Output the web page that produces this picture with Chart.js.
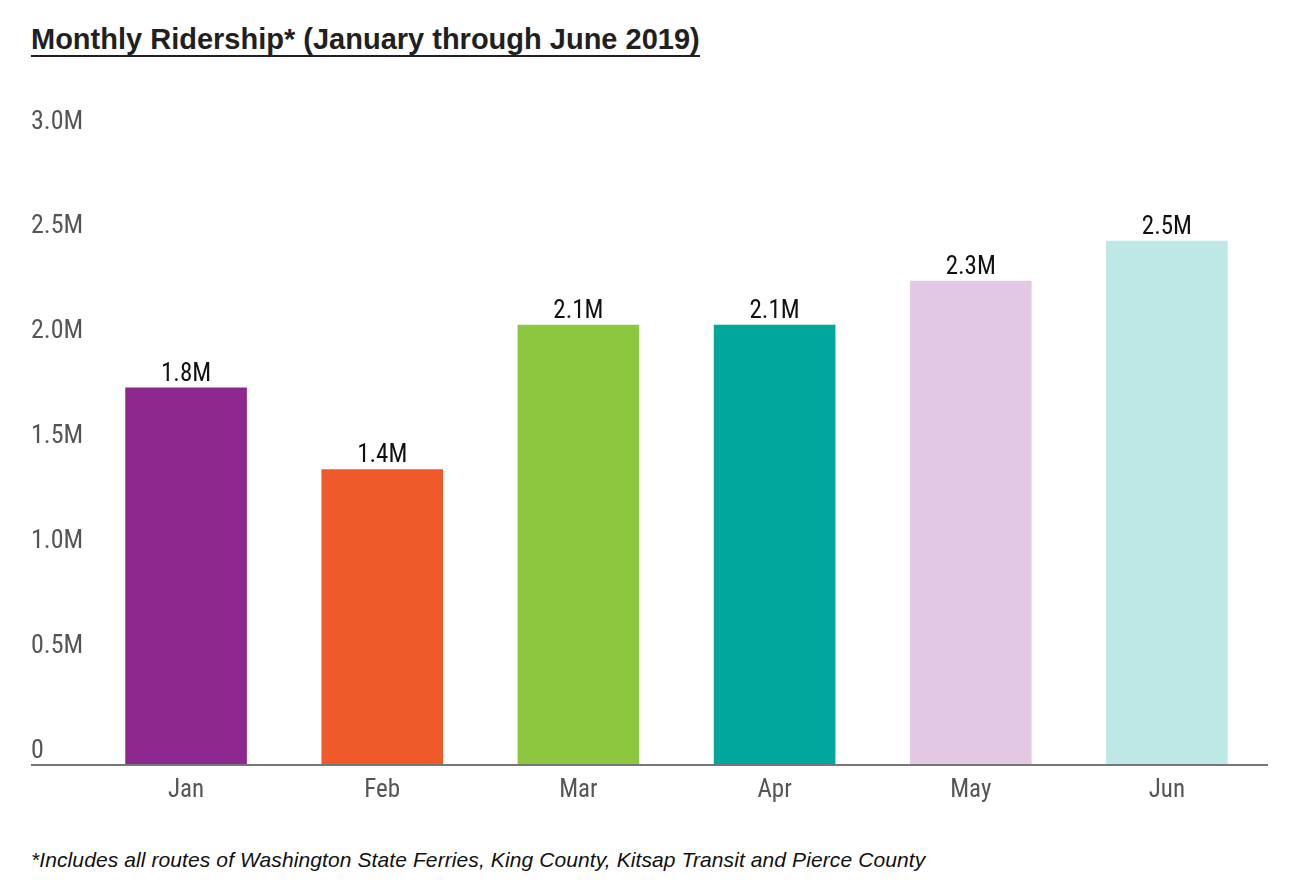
<!DOCTYPE html>
<html>
<head>
<meta charset="utf-8">
<script src="https://cdn.jsdelivr.net/npm/chart.js@4.4.1/dist/chart.umd.min.js"></script>
<style>
  body { margin: 0; background: #fff; }
  #page { position: relative; width: 1290px; height: 888px; overflow: hidden; }
  #title {
    position: absolute; left: 31px; top: 24px;
    font: bold 29px "Liberation Sans", Arial, sans-serif;
    color: #231f20; line-height: 30px;
    border-bottom: 2px solid #231f20; padding-bottom: 1px;
  }
  #note {
    position: absolute; left: 31px; top: 848px;
    font: italic 21px "Liberation Sans", Arial, sans-serif; color: #111;
    letter-spacing: 0.1px;
  }
  #wrap { position: absolute; left: 0; top: 80px; width: 1290px; height: 740px; }
</style>
</head>
<body>
<div id="page">
  <div id="title">Monthly Ridership* (January through June 2019)</div>
  <div id="wrap"><canvas id="ridership"></canvas></div>
  <div id="note">*Includes all routes of Washington State Ferries, King County, Kitsap Transit and Pierce County</div>
</div>
<script>
const months = ['Jan', 'Feb', 'Mar', 'Apr', 'May', 'Jun'];
const riders = [1.80, 1.41, 2.10, 2.10, 2.31, 2.50];   // millions
const valueLabels = ['1.8M', '1.4M', '2.1M', '2.1M', '2.3M', '2.5M'];
const yTicks = [0, 0.5, 1.0, 1.5, 2.0, 2.5, 3.0];
const yTickLabels = ['0', '0.5M', '1.0M', '1.5M', '2.0M', '2.5M', '3.0M'];
const barColors = ['#8e278f', '#f05a2a', '#8dc63f', '#00a79d', '#e3c8e3', '#bee8e5'];

const condensed = '"Roboto Condensed", "Liberation Sans Narrow", "DejaVu Sans Condensed", sans-serif';

// baseline that runs under the y labels, plus the numbers above each bar
const extras = {
    id: 'extras',
    afterDatasetsDraw(chart) {
        const c = chart.ctx;
        const y0 = chart.scales.y.getPixelForValue(0);
        c.save();
        c.strokeStyle = '#777';
        c.lineWidth = 2;
        c.beginPath();
        c.moveTo(31, y0);
        c.lineTo(chart.chartArea.right + 3, y0);
        c.stroke();

        c.fillStyle = '#111';
        c.font = '25px ' + condensed;
        c.textAlign = 'center';
        c.textBaseline = 'alphabetic';
        chart.getDatasetMeta(0).data.forEach((bar, i) => {
            c.fillText(valueLabels[i], bar.x, bar.y - 7);
        });
        c.restore();
    }
};

const ctx = document.getElementById('ridership').getContext('2d');
const chart = new Chart(ctx, {
    type: 'bar',
    data: {
        labels: months,
        datasets: [{
            data: riders,
            backgroundColor: barColors,
            borderWidth: 0,
            categoryPercentage: 1,
            barPercentage: 0.62
        }]
    },
    options: {
        responsive: true,
        maintainAspectRatio: false,
        animation: false,
        layout: { padding: { left: 31, right: 25, top: 56, bottom: 10 } },
        plugins: {
            legend: { display: false },
            tooltip: { enabled: false }
        },
        scales: {
            x: {
                grid: { display: false, drawTicks: false },
                border: { display: false },
                ticks: {
                    color: '#555',
                    font: { family: condensed, size: 25 },
                    padding: 11
                },
                afterFit(scale) { scale.height = 45; }
            },
            y: {
                min: 0,
                max: 3,
                grid: { display: false, drawTicks: false },
                border: { display: false },
                afterBuildTicks(scale) {
                    scale.ticks = yTicks.map(v => ({ value: v }));
                },
                ticks: {
                    color: '#555',
                    font: { family: condensed, size: 26 },
                    crossAlign: 'far',
                    labelOffset: -14,
                    callback: (v) => yTickLabels[yTicks.indexOf(v)]
                },
                afterFit(scale) { scale.width = 57; }
            }
        }
    },
    plugins: [extras]
});
</script>
</body>
</html>
